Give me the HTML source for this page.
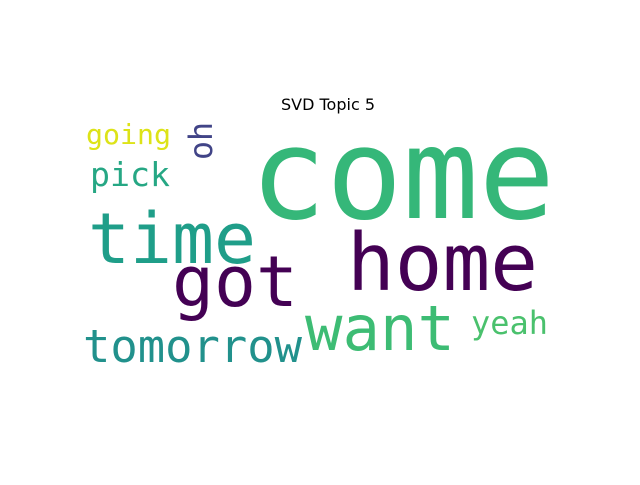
<!DOCTYPE html>
<html><head><meta charset="utf-8"><style>
html,body{margin:0;padding:0;background:#fff;}
svg text{font-family:"DejaVu Sans Mono","Liberation Mono",monospace;}
</style></head><body>
<svg width="640" height="480" viewBox="0 0 640 480">
<rect width="640" height="480" fill="#fff"/>
<text x="328" y="110" text-anchor="middle" font-size="16" style="font-family:'DejaVu Sans','Liberation Sans',sans-serif" fill="#000">SVD Topic 5</text>
<g id="words"></g>
</svg>
<script>
const words=["come","home","time","got","want","tomorrow","yeah","pick","going","oh"];
const sizes=[127,79,70,70,62,45,32,33,28,32];
const colors=["#35b779","#440154","#1f9e89","#440154","#3dbc74","#21918c","#4ac16d","#26a784","#dde318","#414487"];
const xs=[250,347,88,172,305,83,471,90,86,212];
const ys=[218,290,263,306,350,362,334,186,144,160];
const widths=[305,191,168,126,150,219,77,80,85,38];
const rot=[0,0,0,0,0,0,0,0,0,-90];
const g=document.getElementById('words');
for(let i=0;i<words.length;i++){
 const t=document.createElementNS('http://www.w3.org/2000/svg','text');
 
 
 t.setAttribute('x',xs[i]);t.setAttribute('y',ys[i]);
 t.setAttribute('font-size',sizes[i]);t.setAttribute('fill',colors[i]);
 t.setAttribute('textLength',widths[i]);t.setAttribute('lengthAdjust','spacingAndGlyphs');
 if(rot[i])t.setAttribute('transform','rotate('+rot[i]+' '+xs[i]+' '+ys[i]+')');
 t.textContent=words[i];g.appendChild(t);
}
</script>
</body></html>
